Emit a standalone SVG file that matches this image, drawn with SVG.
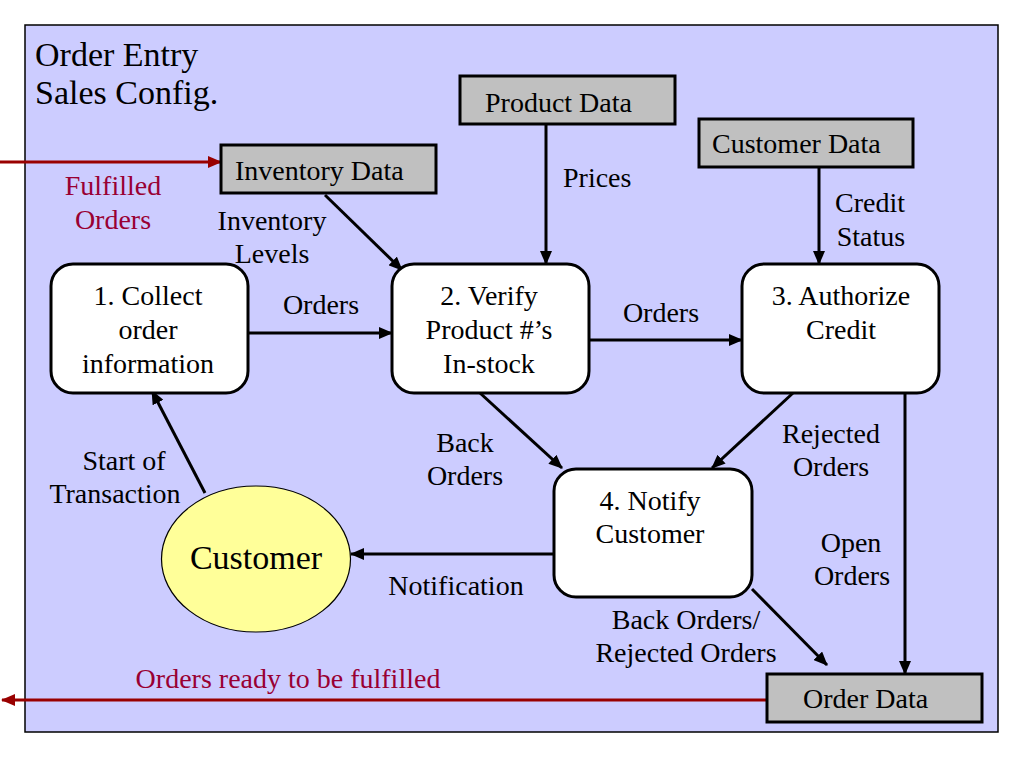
<svg xmlns="http://www.w3.org/2000/svg" width="1024" height="768" viewBox="0 0 1024 768">
<defs>
<marker id="ah" markerUnits="userSpaceOnUse" markerWidth="14" markerHeight="12" refX="13" refY="6" orient="auto">
<path d="M0,0 L14,6 L0,12 z" fill="#000"/>
</marker>
<marker id="ahr" markerUnits="userSpaceOnUse" markerWidth="14" markerHeight="12" refX="13" refY="6" orient="auto">
<path d="M0,0 L14,6 L0,12 z" fill="#990000"/>
</marker>
<style>
text{font-family:"Liberation Serif","Times New Roman",serif;font-size:28px;fill:#000}
.c{text-anchor:middle}
.red{fill:#990033}
.title{font-size:34px}
.proc{fill:#fff;stroke:#000;stroke-width:3}
.store{fill:#c0c0c0;stroke:#000;stroke-width:3}
.flow{stroke:#000;stroke-width:3;fill:none;marker-end:url(#ah)}
.rflow{stroke:#990000;stroke-width:3;fill:none;marker-end:url(#ahr)}
</style>
</defs>
<rect width="1024" height="768" fill="#fff"/>
<rect id="panel" x="25" y="25" width="973" height="707" fill="#ccccff" stroke="#000" stroke-width="1.5"/>
<text class="title" x="35" y="66">Order Entry</text>
<text class="title" x="35" y="104">Sales Config.</text>

<g id="connectors">
<line class="rflow" x1="0" y1="162" x2="221" y2="162"/>
<line class="rflow" x1="767" y1="700" x2="2" y2="700"/>
<line class="flow" x1="325" y1="195" x2="402" y2="270"/>
<line class="flow" x1="546" y1="125" x2="546" y2="264"/>
<line class="flow" x1="819" y1="168" x2="819" y2="264"/>
<line class="flow" x1="248" y1="333" x2="392" y2="333"/>
<line class="flow" x1="589" y1="340" x2="742" y2="340"/>
<line class="flow" x1="480" y1="393" x2="562" y2="468"/>
<line class="flow" x1="793" y1="393" x2="712" y2="468"/>
<line class="flow" x1="905" y1="393" x2="905" y2="674"/>
<line class="flow" x1="752" y1="589" x2="827" y2="665"/>
<line class="flow" x1="554" y1="554" x2="351" y2="554"/>
<line class="flow" x1="205" y1="493" x2="152" y2="391"/>
</g>

<g id="labels">
<text class="c red" x="113" y="195">Fulfilled</text>
<text class="c red" x="113" y="229">Orders</text>
<text class="c" x="272" y="230">Inventory</text>
<text class="c" x="272" y="263">Levels</text>
<text x="563" y="187">Prices</text>
<text class="c" x="870" y="212">Credit</text>
<text class="c" x="871" y="246">Status</text>
<text class="c" x="321" y="314">Orders</text>
<text class="c" x="661" y="322">Orders</text>
<text class="c" x="465" y="452">Back</text>
<text class="c" x="465" y="485">Orders</text>
<text class="c" x="831" y="443">Rejected</text>
<text class="c" x="831" y="476">Orders</text>
<text class="c" x="124" y="470">Start of</text>
<text class="c" x="115" y="503">Transaction</text>
<text class="c" x="456" y="595">Notification</text>
<text class="c" x="851" y="552">Open</text>
<text class="c" x="852" y="585">Orders</text>
<text class="c" x="686" y="629">Back Orders/</text>
<text class="c" x="686" y="662">Rejected Orders</text>
<text class="c red" x="288" y="688">Orders ready to be fulfilled</text>
</g>

<g id="inventory-data">
<rect class="store" x="221" y="145" width="215" height="48"/>
<text x="235" y="180">Inventory Data</text>
</g>
<g id="product-data">
<rect class="store" x="460" y="76" width="215" height="48"/>
<text x="485" y="112">Product Data</text>
</g>
<g id="customer-data">
<rect class="store" x="699" y="119" width="214" height="48"/>
<text x="712" y="153">Customer Data</text>
</g>
<g id="order-data">
<rect class="store" x="767" y="674" width="215" height="48"/>
<text x="803" y="708">Order Data</text>
</g>

<g id="p1">
<rect class="proc" x="51" y="264" width="197" height="129" rx="22"/>
<text class="c" x="148" y="305">1. Collect</text>
<text class="c" x="148" y="339">order</text>
<text class="c" x="148" y="373">information</text>
</g>
<g id="p2">
<rect class="proc" x="392" y="264" width="197" height="129" rx="22"/>
<text class="c" x="489" y="305">2. Verify</text>
<text class="c" x="489" y="339">Product #’s</text>
<text class="c" x="489" y="373">In-stock</text>
</g>
<g id="p3">
<rect class="proc" x="742" y="264" width="197" height="129" rx="22"/>
<text class="c" x="841" y="305">3. Authorize</text>
<text class="c" x="841" y="339">Credit</text>
</g>
<g id="p4">
<rect class="proc" x="554" y="469" width="198" height="128" rx="22"/>
<text class="c" x="650" y="510">4. Notify</text>
<text class="c" x="650" y="543">Customer</text>
</g>
<g id="customer">
<ellipse cx="256" cy="559" rx="94.5" ry="73" fill="#ffff99" stroke="#000" stroke-width="1.2"/>
<text class="c" x="256" y="569" style="font-size:34px">Customer</text>
</g>
</svg>
